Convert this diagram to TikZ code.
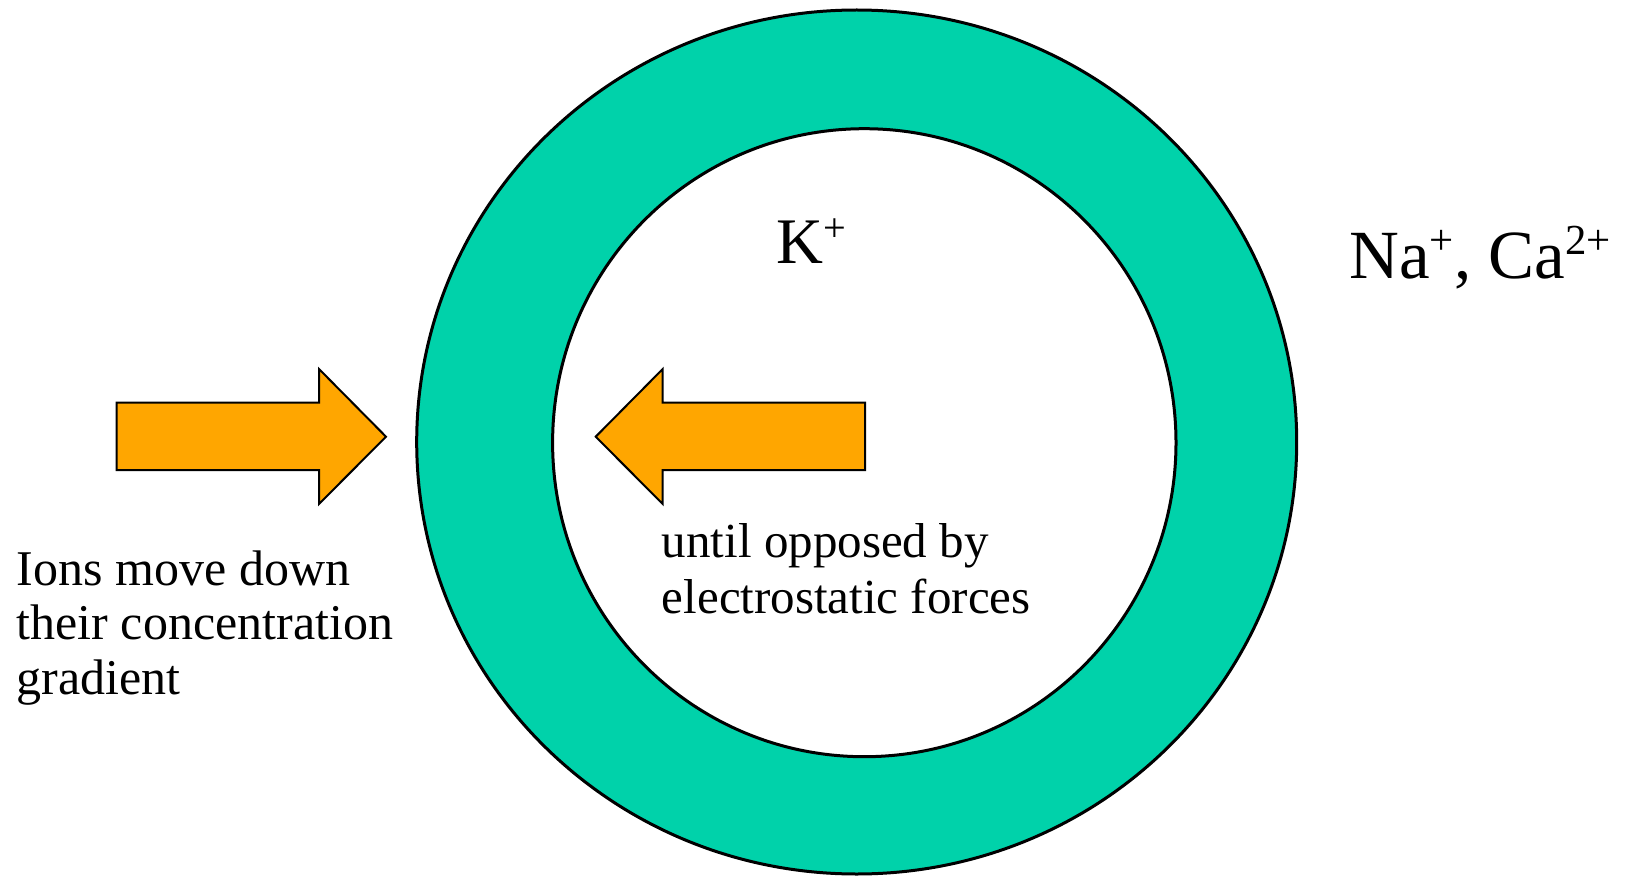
\documentclass[tikz,border=0pt]{standalone}
\usepackage{fontspec}
\setmainfont{Liberation Serif}
\definecolor{ring}{RGB}{0,210,170}
\definecolor{arrowfill}{RGB}{255,166,0}
\newcommand\ionsup[1]{\raisebox{0.34em}{\scalebox{0.62}{#1}}}
\begin{document}
\begin{tikzpicture}[x=1pt,y=-1pt,
  ionlabel/.style={inner sep=0pt,anchor=base west,align=left},
  blockarrow/.style={fill=arrowfill,draw=black,line width=2pt,line join=miter}]
\useasboundingbox (0,0) rectangle (1629,877);
% membrane ring
\fill[ring,draw=black,line width=3pt] (856.7,442) ellipse [x radius=440,y radius=432];
\fill[white,draw=black,line width=3pt] (864.3,442.7) ellipse [x radius=311.7,y radius=314];
% arrows
\draw[blockarrow] (116.7,402.7) -- (319,402.7) -- (319,369) -- (386,436.7) -- (319,504) -- (319,470) -- (116.7,470) -- cycle;
\draw[blockarrow] (865,402.7) -- (662.7,402.7) -- (662.7,369) -- (595.7,436.7) -- (662.7,504) -- (662.7,470) -- (865,470) -- cycle;
% labels (base anchor = baseline of last line)
\node[ionlabel,font=\fontsize{65}{70}\selectfont] (kplus) at (776.7,263.3) {K\ionsup{+}};
\node[ionlabel,font=\fontsize{69}{74}\selectfont] (naca) at (1349.3,278) {Na\ionsup{+}, Ca\ionsup{2+}};
\node[ionlabel,font=\fontsize{50}{54.5}\selectfont] (ions) at (16.6,694) {Ions move down\\their concentration\\gradient};
\node[ionlabel,font=\fontsize{49}{56}\selectfont] (until) at (661.7,613) {until opposed by\\electrostatic forces};
\end{tikzpicture}
\end{document}
